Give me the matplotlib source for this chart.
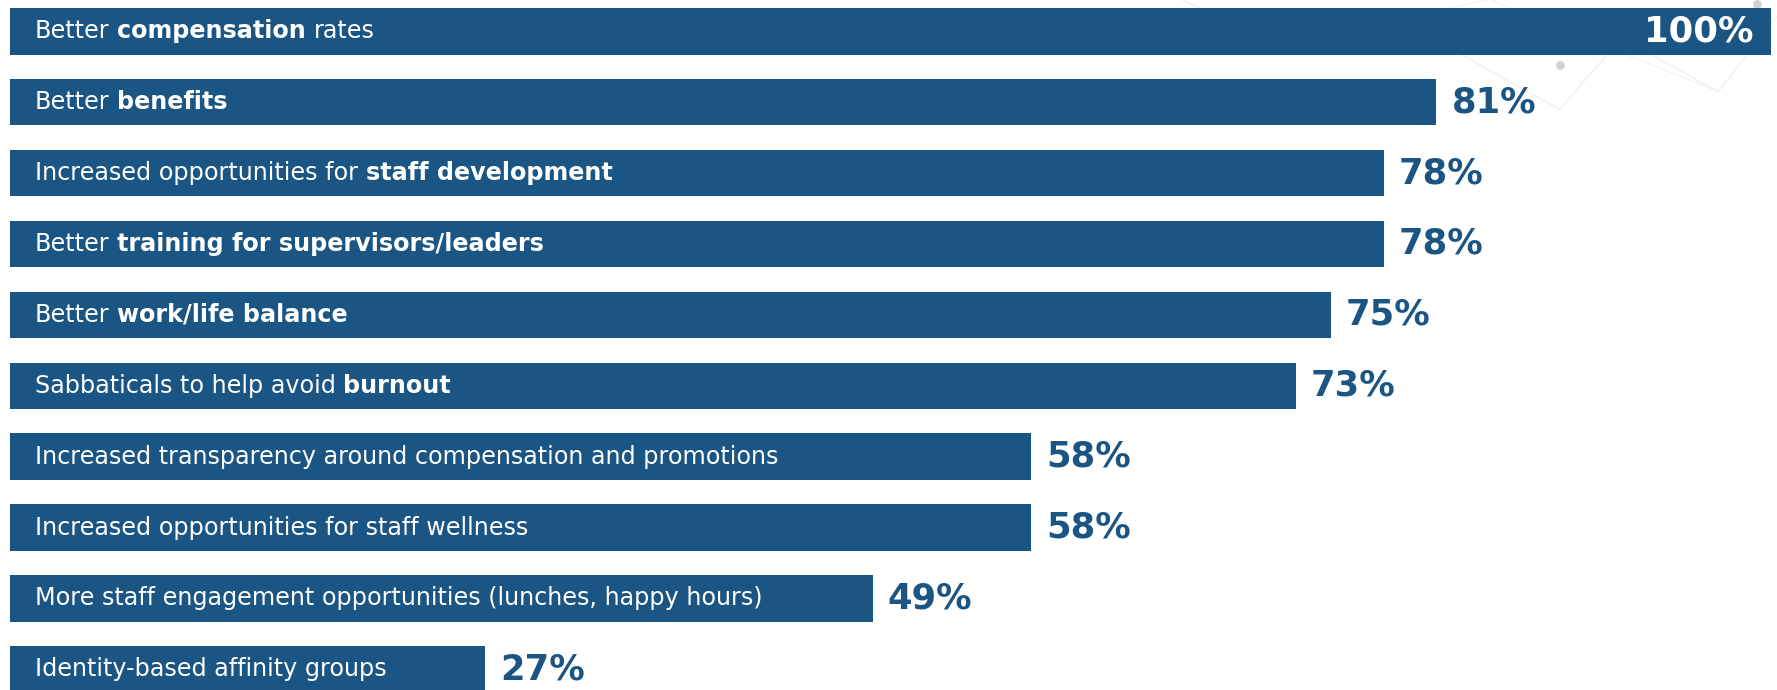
import matplotlib
matplotlib.use("Agg")
import matplotlib.pyplot as plt

# survey results: what would help retain staff
label_parts = [
    [("Better", False), ("compensation", True), ("rates", False)],
    [("Better", False), ("benefits", True)],
    [("Increased opportunities for", False), ("staff development", True)],
    [("Better", False), ("training for supervisors/leaders", True)],
    [("Better", False), ("work/life balance", True)],
    [("Sabbaticals to help avoid", False), ("burnout", True)],
    [("Increased transparency around compensation and promotions", False)],
    [("Increased opportunities for staff wellness", False)],
    [("More staff engagement opportunities (lunches, happy hours)", False)],
    [("Identity-based affinity groups", False)],
]
values = [100, 81, 78, 78, 75, 73, 58, 58, 49, 27]

BLUE = "#1b5583"
W, H = 1777, 690
px_per_unit = 17.61
left_px = 10
pitch_px = 70.9
bar_px = 46.5
top_center_px = 8 + bar_px / 2

fig = plt.figure(figsize=(W / 100, H / 100), dpi=100)
ax = fig.add_axes([0, 0, 1, 1])
ax.set_xlim(-left_px / px_per_unit, (W - left_px) / px_per_unit)
ax.set_ylim((H - top_center_px) / pitch_px, -top_center_px / pitch_px)
ax.axis("off")

# faint network decoration behind the bars
deco_x = [66.5, 72.0, 78.0, 84.0, 88.0, 91.5, 97.0, 100.3]
deco_y = [-0.45, 0.2, -0.3, 0.55, 1.1, 0.1, 0.85, -0.2]
ax.plot(deco_x, deco_y, color="#ededed", lw=0.8, zorder=0)
ax.plot([72.0, 84.0, 97.0], [0.2, -0.45, 0.85], color="#f0f0f0", lw=0.8, zorder=0)
ax.scatter([88.0, 99.2], [0.47, -0.38], s=40, color="#d2d2d2", zorder=0, lw=0)

rows = range(len(values))
ax.barh(rows, values, height=bar_px / pitch_px, color=BLUE, zorder=2)

label_fs = 17.2
pct_fs = 25.5
space_pt = 5.4

for i, (parts, v) in enumerate(zip(label_parts, values)):
    prev = None
    for txt, bold in parts:
        w = "heavy" if bold else "normal"
        if prev is None:
            prev = ax.text(1.42, i, txt, color="white", fontsize=label_fs,
                           fontweight=w, va="center", ha="left",
                           family="DejaVu Sans", zorder=3)
        else:
            prev = ax.annotate(txt, xy=(1, 0), xycoords=prev,
                               xytext=(space_pt, 0), textcoords="offset points",
                               color="white", fontsize=label_fs, fontweight=w,
                               va="bottom", ha="left", family="DejaVu Sans",
                               zorder=3)
    if v >= 100:
        ax.text(v - 1.0, i, f"{v}%", color="white", fontsize=pct_fs,
                fontweight="heavy", va="center", ha="right",
                family="DejaVu Sans", zorder=3)
    else:
        ax.text(v + 0.85, i, f"{v}%", color=BLUE, fontsize=pct_fs,
                fontweight="heavy", va="center", ha="left",
                family="DejaVu Sans", zorder=3)

fig.savefig("out.png", dpi=100)
